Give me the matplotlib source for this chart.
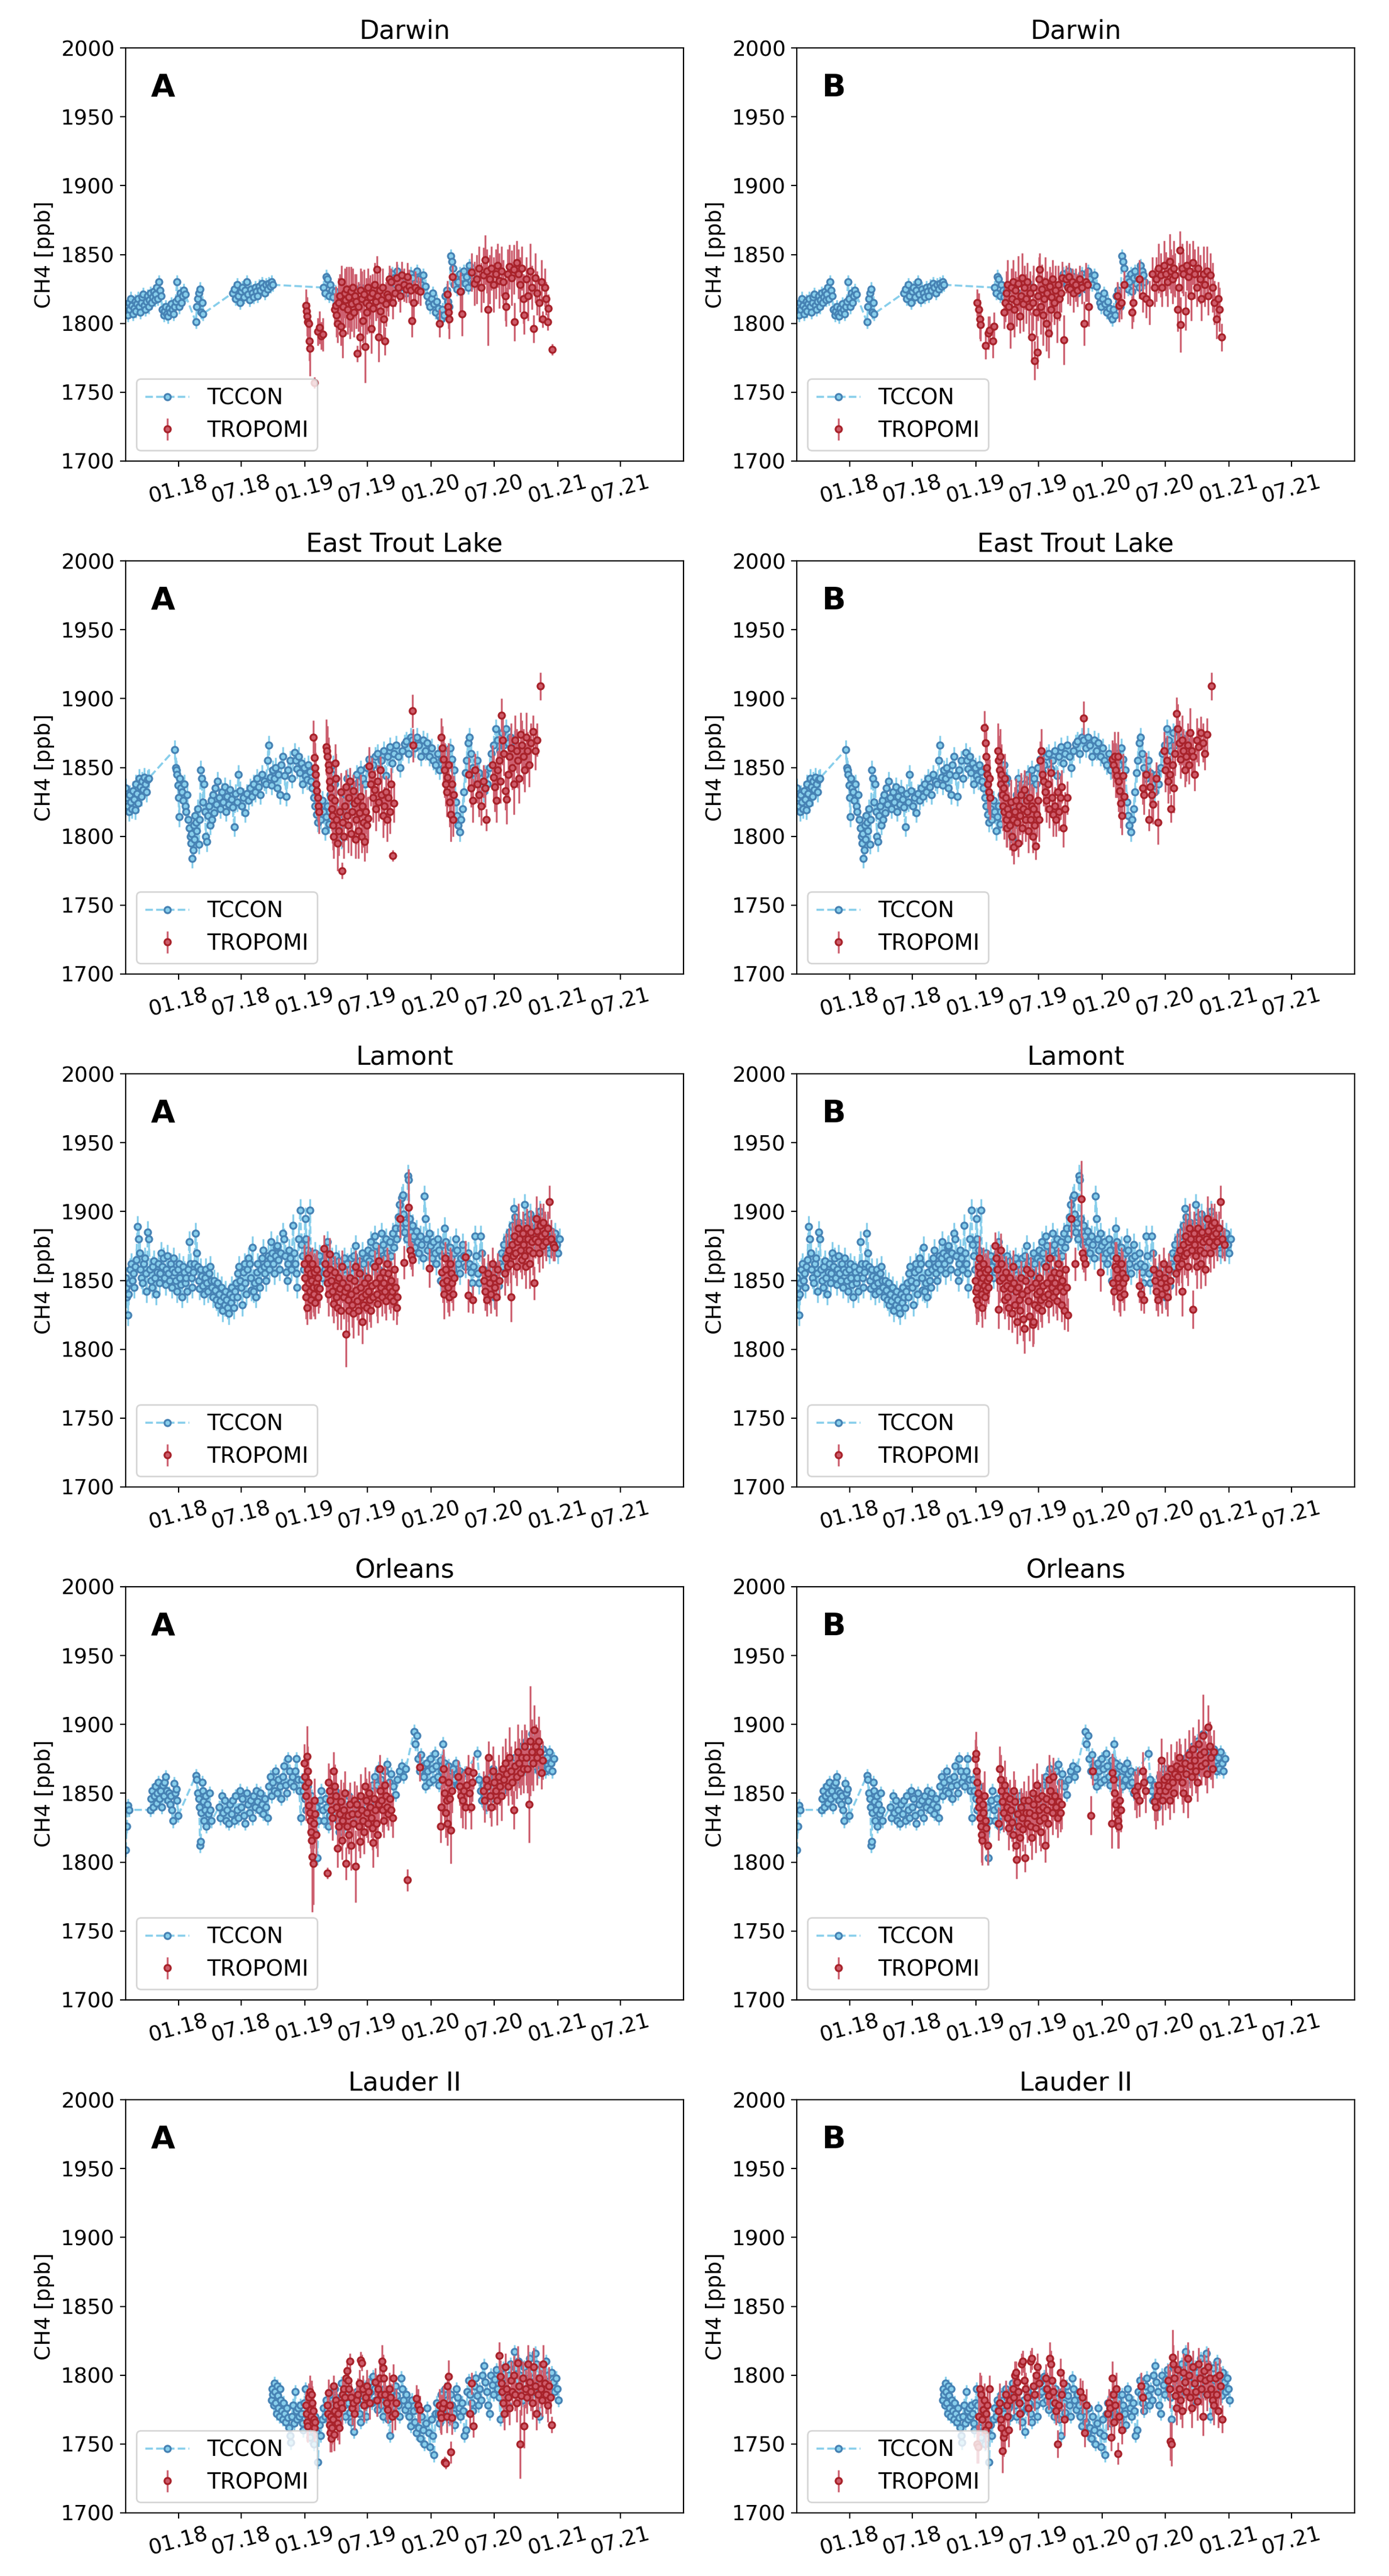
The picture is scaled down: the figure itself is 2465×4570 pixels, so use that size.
import numpy as np
import matplotlib
matplotlib.use('Agg')
import matplotlib.pyplot as plt
import matplotlib.dates as mdates

# days are counted from this date
start = np.datetime64('2017-08-01')

sites = ['Darwin', 'East Trout Lake', 'Lamont', 'Orleans', 'Lauder II']

# TCCON: (day, ppb), same in both columns
darwin_tccon = [(0,1808),(3,1812),(6,1806),(9,1815),(12,1810),(15,1818),(18,1813),(21,1807),(24,1811),(27,1816),(30,1809),(33,1814),(36,1818),(39,1812),(42,1808),(45,1815),(48,1819),(51,1821),(54,1813),(57,1810),(60,1816),(63,1820),(66,1812),(69,1817),(72,1822),(75,1815),(78,1819),(81,1823),(84,1817),(87,1821),(90,1826),(93,1818),(96,1830),(99,1824),(102,1820),(106,1810),(110,1806),(113,1809),(116,1812),(119,1807),(122,1805),(126,1811),(129,1808),(132,1814),(135,1810),(139,1807),(142,1812),(145,1816),(148,1830),(151,1818),(154,1812),(158,1822),(161,1815),(165,1820),(168,1824),(172,1821),
    (203,1801),(206,1812),(209,1818),(212,1822),(215,1825),(218,1808),(221,1815),(224,1807),
    (309,1822),(314,1825),(318,1818),(322,1828),(326,1820),(330,1815),(334,1823),(338,1826),(342,1819),(346,1824),(350,1830),(354,1821),(358,1817),(362,1825),(366,1822),(370,1819),(374,1826),(378,1823),(382,1820),(386,1827),(390,1824),(394,1829),(398,1826),(402,1822),(406,1828),(410,1825),(414,1829),(418,1827),(422,1830),(426,1828),
    (572,1826),(576,1822),(580,1834),(584,1832),(588,1820),(592,1828),(596,1824),(600,1819),(606,1823),(640,1822),(680,1826),(720,1820),
    (765,1830),(770,1836),(775,1833),(780,1828),(785,1838),(790,1832),(795,1826),(800,1834),(806,1829),(812,1822),(818,1830),(824,1836),(830,1833),(836,1825),(842,1838),(848,1832),(854,1828),(860,1835),(866,1827),(872,1820),(876,1815),(880,1812),(884,1818),(888,1822),(892,1814),(896,1808),(900,1816),(904,1811),(908,1805),(912,1803),(916,1810),(920,1806),(924,1820),(928,1824),(932,1816),(936,1812),(940,1849),(943,1845),(946,1840),(950,1828),(954,1832),(958,1825),(962,1830),(966,1836),(970,1823),(974,1833),(978,1838),(982,1829),(986,1834),(990,1826),(994,1842),(998,1838),(1002,1835),(1006,1830)]

etl_tccon = [(0,1835),(3,1828),(6,1822),(9,1818),(12,1830),(15,1825),(18,1820),(21,1833),(24,1827),(27,1819),(30,1838),(33,1831),(36,1824),(39,1842),(42,1836),(45,1829),(48,1840),(51,1834),(54,1843),(57,1838),(60,1832),(63,1841),(66,1842),
    (142,1863),(145,1850),(147,1848),(149,1845),(151,1837),(153,1828),(155,1814),(157,1842),(159,1835),(163,1832),(166,1826),(169,1838),(172,1822),(175,1818),(178,1830),(181,1812),(184,1806),(187,1800),(189,1795),(191,1802),(193,1784),(195,1790),(197,1808),(199,1798),(201,1815),(203,1810),
    (205,1804),(208,1820),(211,1794),(214,1812),(217,1848),(220,1842),(223,1825),(226,1838),(229,1818),(232,1800),(235,1796),(238,1815),(241,1822),(244,1808),(247,1826),(250,1812),(253,1830),(256,1817),(259,1835),(262,1823),
    (266,1840),(270,1828),(274,1820),(278,1832),(282,1825),(286,1836),(290,1818),(294,1829),(298,1823),(302,1834),(306,1827),(310,1821),(314,1807),(318,1831),(322,1825),(326,1845),(330,1833),
    (335,1822),(340,1828),(345,1817),(350,1831),(355,1826),(360,1835),(365,1829),(370,1838),(375,1832),(380,1842),(385,1836),(390,1830),(395,1845),(400,1840),(405,1838),(410,1855),(414,1866),(418,1843),(422,1837),(426,1848),(430,1842),(434,1850),(438,1835),(442,1845),(446,1830),(450,1852),(455,1858),(460,1844),(465,1829),(470,1848),(475,1855),(480,1842),
    (488,1861),(492,1855),(496,1849),(500,1858),(504,1846),(508,1853),(512,1838),(516,1850),(520,1844),(524,1841),(528,1852),(532,1847),(536,1840),
    (540,1835),(544,1828),(548,1822),(552,1816),(556,1810),(560,1820),(564,1812),(568,1826),(572,1818),(576,1804),(580,1814),(584,1822),(588,1809),(592,1830),(596,1845),(600,1852),(604,1838),(608,1842),(612,1818),(616,1805),(620,1812),(624,1798),(628,1808),(632,1820),(636,1830),(640,1842),(644,1835),
    (650,1826),(656,1838),(662,1832),(668,1845),(674,1840),(680,1848),(686,1842),(692,1838),(698,1850),(704,1856),(710,1847),(716,1852),(722,1858),(728,1860),(734,1849),(740,1855),(746,1862),(752,1844),(758,1858),(764,1865),(770,1853),(776,1860),(782,1866),(788,1858),(794,1850),(800,1862),(806,1867),(812,1869),(818,1860),(824,1872),
    (830,1870),(836,1864),(842,1872),(848,1866),(854,1858),(860,1870),(866,1862),(872,1868),(878,1858),(884,1864),(890,1855),(896,1852),(902,1860),(908,1848),(914,1856),(920,1850),
    (926,1860),(932,1852),(938,1864),(944,1856),(950,1848),(955,1825),(958,1815),(962,1808),(966,1803),(970,1812),(974,1820),(978,1832),(982,1846),(986,1855),(990,1868),(994,1872),(998,1860),(1004,1850),(1010,1842),(1016,1855),(1022,1846),(1028,1838),(1034,1832),(1040,1845),(1046,1838),(1052,1850),(1058,1860),(1064,1866),(1070,1878),(1076,1870),(1082,1862),(1088,1875),(1094,1866),(1100,1878),(1106,1868),(1112,1872),(1118,1864),(1124,1870)]

lamont_tccon = [(0,1852),(2,1845),(4,1838),(6,1825),(8,1840),(10,1848),(13,1858),(16,1862),(19,1850),(22,1855),(25,1845),(28,1860),(31,1865),(34,1889),(37,1880),(40,1870),(43,1858),(46,1852),(49,1848),(52,1862),(55,1866),(58,1855),(61,1842),(64,1885),(67,1880),(70,1858),(73,1850),(76,1845),(79,1860),(82,1864),(85,1852),(88,1840),(91,1856),(94,1862),(97,1848),(100,1855),(103,1870),(106,1860),(109,1866),(112,1852),(115,1847),(118,1858),(121,1868),(124,1855),(127,1850),(130,1862),(133,1845),(136,1858),(139,1866),(142,1856),(145,1850),(148,1842),(151,1858),(154,1862),(157,1852),(160,1847),(163,1838),(166,1860),(169,1856),(172,1848),(175,1852),(178,1842),(181,1858),(184,1878),(187,1862),(190,1852),(193,1845),(196,1856),(199,1862),(202,1884),(205,1870),(208,1860),(211,1850),(214,1844),(217,1858),(220,1853),(223,1846),(226,1840),(229,1852),(232,1858),(235,1848),(238,1842),(241,1855),(244,1860),(247,1850),(250,1845),(253,1838),(256,1850),(259,1843),(262,1836),(265,1848),(268,1832),(271,1840),(274,1835),(277,1845),(280,1828),(283,1838),(286,1832),(289,1842),(292,1836),(295,1830),(298,1826),(301,1840),(304,1834),(307,1845),(310,1838),(313,1830),(316,1842),(319,1848),(322,1838),(325,1855),(328,1860),(331,1850),(334,1845),(337,1832),(340,1856),(343,1862),(346,1848),(349,1840),(352,1858),(355,1866),(358,1862),(361,1852),(364,1843),(367,1874),(370,1842),(373,1848),(376,1838),(379,1856),(382,1862),(385,1850),(388,1845),(391,1858),(394,1866),(397,1872),(400,1860),(403,1855),(406,1850),(409,1862),(412,1868),(415,1858),(418,1866),(421,1878),(424,1870),(427,1862),(430,1855),(433,1868),(436,1874),(439,1875),(442,1865),(445,1858),(448,1870),(455,1884),(458,1880),(461,1868),(464,1856),(467,1850),(470,1862),(473,1872),(476,1866),(479,1858),(484,1890),(487,1870),(490,1862),(493,1855),(496,1845),(500,1880),(505,1901),(508,1876),(512,1868),(515,1858),(519,1895),(522,1880),(526,1872),(530,1865),(533,1901),(536,1860),
    (540,1866),(544,1858),(548,1870),(552,1862),(556,1855),(560,1868),(564,1860),(568,1852),(572,1864),(576,1858),(580,1870),(584,1878),(588,1862),(592,1855),(596,1866),(600,1860),(604,1852),(608,1868),(612,1858),(616,1864),(620,1855),(624,1848),(628,1860),(632,1866),(636,1854),(640,1862),(644,1850),(648,1858),(652,1866),(656,1855),(660,1868),(664,1875),(668,1860),(672,1852),(676,1864),(680,1856),(684,1870),(688,1862),(692,1853),(696,1866),
    (700,1872),(704,1864),(708,1878),(712,1870),(716,1862),(720,1882),(724,1875),(728,1868),(732,1858),(736,1872),(740,1884),(744,1876),(748,1866),(752,1880),(756,1870),(760,1862),(764,1878),(768,1868),(772,1884),(776,1874),(780,1888),(784,1880),
    (788,1896),(792,1905),(795,1888),(798,1910),(801,1912),(804,1898),(807,1885),(810,1892),(813,1880),(816,1926),(818,1923),(821,1895),(824,1885),(827,1876),(830,1890),(833,1882),
    (836,1874),(840,1886),(844,1878),(848,1870),(852,1882),(856,1876),(860,1866),(864,1911),(867,1895),(870,1880),(874,1872),(878,1884),(882,1875),(886,1866),(890,1878),(894,1870),(898,1862),(902,1880),(906,1872),(910,1850),(914,1868),(918,1876),(922,1888),(926,1878),(930,1868),(934,1860),(938,1874),(942,1866),(946,1858),(950,1870),(954,1880),(958,1872),(962,1862),(966,1855),(970,1866),(974,1876),(978,1868),(982,1860),
    (990,1870),(994,1862),(998,1856),(1002,1848),(1006,1860),(1010,1882),(1014,1868),(1018,1855),(1022,1848),(1026,1882),(1030,1870),(1034,1858),(1038,1850),(1042,1843),(1046,1855),(1050,1848),(1054,1840),(1058,1852),(1062,1845),(1066,1838),(1070,1850),(1074,1856),(1078,1846),(1082,1862),(1086,1870),(1090,1860),
    (1094,1876),(1098,1868),(1102,1880),(1106,1872),(1110,1885),(1114,1878),(1118,1890),(1122,1902),(1126,1896),(1130,1888),(1134,1880),(1138,1892),(1142,1884),(1146,1876),(1150,1890),(1154,1905),(1158,1896),(1162,1888),(1166,1880),(1170,1898),(1174,1892),(1178,1884),(1182,1876),(1186,1895),(1190,1888),(1194,1880),(1198,1900),(1202,1892),(1206,1884),(1210,1878),(1214,1890),(1218,1882),(1222,1876),(1226,1870),(1230,1886),(1234,1880),(1238,1872),(1242,1884),(1246,1876),(1250,1870),(1254,1880)]

orleans_tccon = [(0,1809),(3,1826),(6,1841),(9,1838),
    (71,1838),(74,1846),(77,1852),(80,1840),(83,1848),(86,1855),(89,1843),(92,1850),(95,1858),(98,1846),(101,1852),(104,1840),(107,1856),(110,1848),(113,1858),(116,1862),(119,1852),(122,1845),(125,1850),(128,1842),(131,1848),(134,1838),(137,1830),(140,1857),(143,1850),(146,1853),(149,1845),(152,1834),
    (203,1863),(206,1860),(208,1850),(211,1846),(213,1840),(215,1812),(217,1815),(219,1836),(221,1858),(223,1852),(225,1844),(227,1830),(229,1838),(231,1848),(233,1826),(236,1842),(239,1835),(242,1850),(245,1838),(248,1830),
    (270,1840),(274,1832),(278,1848),(282,1836),(286,1845),(290,1830),(294,1838),(298,1828),(302,1842),(306,1835),(310,1845),(314,1830),(318,1848),(322,1838),(326,1832),(330,1852),(334,1840),(338,1846),(342,1834),(346,1828),(350,1850),(354,1842),(358,1836),(362,1845),(366,1832),(370,1848),(374,1840),(378,1852),(382,1844),(386,1838),(390,1850),(394,1842),(398,1835),(402,1846),(406,1840),(410,1832),
    (414,1855),(418,1862),(422,1848),(426,1858),(430,1852),(434,1866),(438,1850),(442,1860),(446,1855),(450,1846),(454,1862),(458,1870),(462,1856),(466,1850),(470,1875),(474,1866),(478,1858),(482,1862),(486,1855),(490,1866),(494,1875),(498,1860),(502,1852),(506,1832),
    (510,1860),(514,1852),(518,1846),(522,1838),(526,1855),(530,1844),(534,1836),(538,1848),(542,1828),(546,1822),(550,1840),(554,1803),(558,1830),(562,1845),(566,1852),(570,1838),(574,1830),(578,1846),(582,1840),(586,1826),(590,1834),(594,1848),(598,1842),(602,1836),(606,1852),(610,1844),(614,1830),(618,1822),(622,1838),(626,1846),(630,1834),(634,1826),(638,1840),(642,1832),(646,1848),(650,1838),(654,1830),
    (660,1836),(666,1842),(672,1832),(678,1846),(684,1838),(690,1844),(696,1836),(702,1850),(708,1842),(714,1856),
    (720,1862),(726,1856),(732,1868),(738,1860),(744,1852),(750,1866),(756,1871),(762,1858),(768,1864),(774,1855),(780,1849),(786,1860),(792,1866),(798,1870),(804,1862),(810,1868),
    (834,1895),(838,1886),(842,1892),(846,1875),(850,1866),
    (854,1878),(858,1870),(862,1862),(866,1855),(870,1872),(874,1866),(878,1858),(882,1875),(886,1868),(890,1860),(894,1879),(898,1870),(902,1862),(906,1856),(910,1874),(914,1866),(918,1886),(922,1872),(926,1864),(930,1858),(934,1870),(938,1862),(942,1855),(946,1868),(950,1860),(954,1872),(958,1864),(962,1856),(966,1866),(970,1858),(974,1850),(981,1865),
    (1017,1879),(1022,1860),(1026,1852),(1030,1845),(1034,1856),(1038,1848),(1042,1840),(1046,1852),(1050,1862),(1054,1855),(1058,1846),(1062,1868),(1066,1858),(1070,1850),(1074,1862),(1078,1855),(1082,1848),(1086,1860),(1090,1852),
    (1118,1870),(1122,1862),(1126,1876),(1130,1868),(1134,1860),(1138,1880),(1142,1872),(1146,1884),(1150,1876),(1154,1868),(1158,1888),(1162,1880),(1166,1872),(1170,1865),(1174,1893),(1178,1878),(1182,1870),(1186,1880),(1190,1872),(1194,1866),(1198,1878),(1202,1870),(1206,1882),(1210,1874),(1214,1866),(1218,1876),(1222,1868),(1226,1880),(1230,1872),(1234,1866),(1238,1875)]

lauder_tccon = [(422,1782),(424,1790),(426,1786),(428,1778),(430,1794),(432,1788),(434,1780),(436,1772),(438,1792),(440,1785),(442,1776),(444,1770),(446,1790),(448,1782),(451,1774),(454,1768),(457,1780),(460,1772),(463,1766),(466,1776),(469,1769),(472,1762),(475,1756),(478,1751),(481,1770),(484,1778),(487,1765),(490,1788),(493,1774),(496,1768),(499,1776),(502,1770),(505,1778),
    (508,1772),(511,1765),(514,1760),(517,1780),(520,1790),(523,1778),(526,1770),(529,1762),(532,1755),(535,1775),(538,1768),(541,1760),(544,1750),(548,1770),(552,1758),(556,1737),(560,1764),(564,1756),(568,1768),
    (572,1776),(576,1770),(580,1782),(584,1775),(588,1768),(592,1786),(596,1778),(600,1772),(604,1790),(608,1784),(612,1776),(616,1769),(620,1782),(624,1794),(628,1786),(632,1778),(636,1770),(640,1788),(644,1780),(648,1773),(652,1766),(656,1782),(660,1759),(664,1776),(668,1788),(672,1780),(676,1772),(680,1766),(684,1785),(688,1792),(692,1778),(696,1770),(700,1786),(704,1795),(708,1788),(712,1780),(716,1799),(720,1790),
    (724,1782),(728,1775),(732,1796),(736,1786),(740,1778),(744,1770),(748,1790),(752,1783),(756,1776),(760,1768),(764,1756),(768,1788),(772,1780),(776,1773),(780,1792),(784,1785),(788,1778),(792,1770),(796,1798),(800,1790),(804,1782),
    (808,1775),(812,1786),(816,1778),(820,1770),(824,1763),(828,1782),(832,1774),(836,1766),(840,1758),(844,1776),(848,1762),(852,1754),(856,1770),(860,1760),(864,1750),(868,1765),(872,1776),(876,1758),(880,1748),(884,1768),(888,1756),(892,1742),(896,1772),
    (900,1780),(904,1772),(908,1765),(912,1786),(916,1778),(920,1770),(924,1790),(928,1782),(932,1775),(936,1768),(940,1786),(944,1778),(948,1772),(952,1764),(956,1790),(960,1784),(964,1776),(968,1770),(972,1780),(976,1774),(980,1756),(984,1760),(988,1788),(992,1796),(996,1786),(1000,1780),(1004,1774),(1008,1792),(1012,1798),(1016,1785),(1020,1778),(1024,1790),(1028,1782),(1032,1800),
    (1036,1807),(1040,1795),(1044,1788),(1048,1778),(1052,1772),(1056,1800),(1060,1793),(1064,1786),(1068,1797),(1072,1804),(1076,1790),(1080,1784),(1084,1768),
    (1088,1798),(1092,1805),(1096,1792),(1100,1786),(1104,1778),(1108,1800),(1112,1808),(1116,1796),(1120,1788),(1124,1817),(1128,1805),(1132,1796),(1136,1810),(1140,1800),(1144,1790),(1148,1782),(1152,1806),(1156,1798),(1160,1790),(1164,1784),(1168,1812),(1172,1802),(1176,1795),(1180,1788),(1184,1816),(1188,1808),(1192,1798),(1196,1770),(1200,1790),(1204,1805),(1208,1796),(1212,1788),(1216,1810),(1220,1800),(1224,1792),(1228,1785),(1232,1802),(1236,1795),(1240,1788),(1244,1798),(1248,1790),(1252,1782)]

tccon_err = [5, 7, 8, 5, 5]

# TROPOMI: (day, ppb, error), column A
darwin_a = [(521,1813,12),(523,1809,10),(525,1805,14),(527,1801,12),(529,1800,15),(531,1787,14),(533,1782,20),
    (546,1757,4),(555,1794,10),(560,1797,12),(566,1791,10),(570,1792,12),
    (604,1810,12),(607,1813,14),(610,1806,16),(613,1800,14),(616,1815,18),(619,1820,16),(622,1798,14),(624,1830,12),(627,1793,18),(629,1812,16),
    (633,1822,18),(636,1817,20),(639,1825,16),(642,1810,18),(645,1819,22),(648,1805,16),(651,1823,18),(654,1814,20),(657,1826,14),(660,1808,18),(663,1820,16),(666,1816,20),(670,1778,6),(673,1812,18),(677,1790,14),(680,1824,16),(683,1818,20),(686,1802,16),(689,1821,18),(692,1783,26),(695,1815,18),(698,1808,16),(701,1826,14),(704,1813,20),(707,1819,16),(710,1796,18),(713,1822,14),(716,1811,18),(720,1828,16),(723,1816,14),(726,1839,10),(729,1820,16),(731,1790,18),(734,1824,14),(737,1809,16),(740,1817,12),(743,1826,14),(746,1803,16),(750,1787,10),(753,1814,16),(756,1821,12),(760,1819,14),(763,1832,10),
    (768,1830,10),(773,1815,12),(778,1822,10),(783,1833,12),(788,1826,10),(793,1820,12),(798,1835,10),(805,1828,12),(812,1825,10),(815,1834,10),(820,1827,12),(825,1824,10),(828,1802,12),(832,1815,16),(838,1826,12),(845,1824,10),(852,1823,10),
    (907,1800,10),(930,1821,10),(932,1812,12),(934,1808,12),(936,1803,14),(945,1834,8),(968,1823,14),(972,1807,16),
    (1000,1837,14),(1008,1829,16),(1015,1832,18),(1022,1840,16),(1028,1826,18),(1035,1835,20),(1040,1846,18),(1045,1838,16),(1048,1810,26),(1052,1832,18),(1058,1840,16),(1064,1828,20),(1070,1836,18),(1075,1842,16),(1080,1831,20),(1086,1838,18),(1092,1830,16),(1098,1820,18),(1100,1812,14),(1105,1836,18),(1110,1841,16),(1116,1833,20),(1122,1839,18),(1125,1801,14),(1130,1844,16),(1135,1836,18),(1140,1828,20),(1145,1840,16),(1150,1818,18),(1152,1806,14),(1158,1832,16),(1164,1820,18),(1170,1838,20),(1175,1826,16),(1180,1796,10),(1185,1833,18),(1190,1822,16),(1196,1815,14),(1202,1830,16),(1206,1803,6),(1212,1826,14),(1216,1818,12),(1220,1801,6),(1222,1811,10),(1234,1781,4)]

etl_a = [(543,1872,12),(545,1857,14),(547,1850,18),(549,1845,16),(551,1838,14),(553,1833,18),(555,1828,16),(557,1822,14),(559,1818,16),
    (580,1865,20),(582,1862,18),(584,1858,22),(586,1852,20),(588,1848,18),(590,1840,22),(592,1835,20),(594,1828,18),(596,1820,16),(598,1815,20),(600,1808,18),(602,1800,16),(604,1826,20),(606,1853,14),(608,1842,18),(610,1812,16),
    (613,1795,20),(616,1804,18),(619,1818,16),(622,1832,14),(625,1775,6),(628,1810,18),(631,1800,16),(634,1822,14),(637,1836,12),(640,1815,18),(643,1808,20),(646,1828,14),(649,1840,10),(652,1802,16),(655,1818,18),(658,1833,12),(661,1824,16),(664,1798,14),(667,1812,18),(670,1826,16),(673,1804,20),(676,1817,14),(679,1829,16),(682,1800,12),(685,1822,16),(688,1810,18),(691,1796,14),(694,1818,16),(697,1808,20),(700,1813,16),
    (704,1851,14),(708,1838,16),(712,1845,12),(716,1828,18),(720,1834,14),(724,1820,16),(728,1840,12),(732,1825,14),(736,1848,10),(740,1830,14),(744,1815,16),(748,1822,14),(752,1832,12),(756,1812,16),(760,1828,14),(764,1818,16),(768,1838,12),(772,1786,4),(776,1824,14),
    (829,1891,12),(831,1866,12),
    (913,1872,14),(916,1864,16),(919,1856,18),(922,1848,20),(925,1838,16),(928,1832,18),(931,1843,22),(934,1852,16),(937,1825,18),(940,1816,20),(943,1838,16),(946,1812,12),(949,1830,14),
    (992,1845,12),(998,1835,14),(1004,1826,16),(1010,1848,12),(1016,1838,14),(1022,1830,16),(1028,1822,14),(1034,1840,12),(1040,1835,14),(1043,1812,8),
    (1060,1852,14),(1064,1843,16),(1068,1836,18),(1072,1826,16),(1076,1848,14),(1080,1855,18),(1084,1840,16),(1086,1888,12),(1090,1870,18),(1094,1860,16),(1098,1833,14),(1102,1827,18),(1106,1845,20),(1110,1858,16),(1114,1864,18),(1118,1850,16),(1122,1838,22),(1126,1870,18),(1130,1862,16),(1134,1855,20),(1138,1842,18),(1142,1874,16),(1146,1866,18),(1150,1858,20),(1154,1848,16),(1158,1872,18),(1162,1862,14),(1166,1852,16),(1172,1868,14),(1178,1876,12),(1184,1862,14),(1190,1870,12),(1199,1909,10)]

lamont_a = [(516,1862,14),(518,1852,16),(520,1845,18),(522,1838,16),(524,1830,12),(526,1858,14),(528,1866,16),(530,1848,18),(532,1842,20),(534,1855,16),(536,1836,14),(538,1850,16),(540,1862,12),(542,1845,18),(544,1840,16),(546,1856,14),(548,1834,12),(550,1848,16),(552,1858,14),(554,1845,12),(556,1852,14),(558,1838,12),(560,1844,14),
    (574,1873,10),(577,1862,14),(580,1855,16),(583,1848,14),(586,1840,16),(589,1869,12),(592,1858,14),(595,1850,16),(598,1842,18),(601,1833,14),(604,1856,12),(607,1846,16),(610,1838,14),(613,1830,16),(616,1852,14),(619,1844,12),(622,1828,14),(625,1860,12),(628,1848,14),(631,1838,16),(634,1842,12),
    (637,1811,24),(640,1845,14),(643,1836,16),(646,1828,18),(649,1852,12),(652,1840,14),(655,1832,16),(658,1826,18),(661,1850,14),(664,1860,12),(667,1843,16),(670,1835,14),(673,1828,18),(676,1855,12),(679,1845,14),(682,1838,16),(685,1820,16),(688,1832,14),(691,1848,12),(694,1840,14),(697,1830,16),(700,1852,12),(703,1842,14),(706,1836,16),(709,1828,12),(712,1846,14),(715,1838,12),
    (720,1860,12),(723,1848,14),(726,1840,16),(729,1833,14),(732,1864,12),(735,1852,14),(738,1845,12),(741,1838,14),(744,1856,12),(747,1848,14),(750,1842,16),(753,1835,14),(756,1862,12),(759,1855,14),(762,1845,16),(765,1838,12),(768,1850,14),(771,1842,12),(774,1835,14),(777,1858,12),(780,1845,14),(783,1830,12),(786,1838,14),
    (793,1895,14),(805,1863,12),(818,1903,28),(822,1872,12),(826,1868,10),(830,1865,12),(879,1859,14),
    (914,1856,16),(917,1848,14),(920,1840,18),(923,1866,12),(926,1858,14),(929,1850,16),(932,1845,18),(935,1838,14),(938,1862,12),(941,1855,16),(944,1848,14),(947,1840,12),(950,1852,14),
    (982,1867,12),(990,1839,12),(1003,1836,10),
    (1032,1858,14),(1036,1850,16),(1040,1842,14),(1044,1836,12),(1048,1855,14),(1052,1848,16),(1056,1840,14),(1060,1862,12),(1064,1852,14),(1068,1845,16),(1072,1838,14),(1076,1858,12),(1080,1850,14),
    (1096,1855,16),(1100,1866,18),(1104,1860,14),(1108,1872,16),(1112,1862,14),(1115,1838,18),(1118,1876,16),(1121,1868,14),(1124,1882,16),(1127,1870,18),(1130,1860,14),(1133,1878,16),(1136,1888,18),(1139,1880,14),(1142,1872,16),(1145,1865,14),(1148,1884,16),(1151,1876,18),(1154,1868,14),(1157,1860,16),(1160,1888,14),(1163,1880,16),(1166,1872,14),(1169,1862,18),(1172,1885,16),(1175,1878,14),(1178,1870,16),(1181,1848,12),(1184,1880,14),(1187,1895,16),(1190,1886,14),(1193,1878,16),(1196,1870,14),(1199,1890,16),(1202,1882,14),(1205,1875,16),(1208,1892,14),(1212,1884,16),(1216,1878,14),(1220,1888,12),(1226,1907,12),(1230,1880,14),(1236,1876,12),(1240,1874,10)]

orleans_a = [(516,1872,14),(518,1862,16),(520,1855,20),(522,1848,18),(524,1877,22),(526,1866,18),(528,1858,20),(530,1841,22),(532,1836,18),(534,1830,20),(536,1822,18),(538,1816,16),(540,1804,40),(542,1799,30),(544,1828,18),(546,1845,16),(548,1835,14),(550,1820,16),
    (583,1792,4),(586,1858,14),(589,1852,16),(592,1845,18),(595,1838,14),(598,1832,16),(601,1866,14),(604,1855,16),(607,1848,18),(610,1840,16),(613,1810,14),(616,1826,16),(619,1835,18),(622,1844,16),(625,1816,14),(628,1830,18),(631,1838,20),(634,1850,16),(637,1799,12),(640,1826,16),(643,1834,18),(646,1820,14),(649,1842,16),(652,1812,18),(655,1835,14),(658,1828,16),(661,1845,14),(664,1797,26),
    (668,1842,14),(671,1835,16),(674,1826,18),(677,1815,12),(680,1848,16),(683,1838,18),(686,1830,14),(689,1822,16),(692,1855,14),(695,1845,16),(698,1836,18),(701,1828,14),(704,1850,16),(707,1840,18),(710,1832,14),(713,1825,16),(716,1814,18),(719,1846,14),(722,1838,16),(725,1828,18),(728,1820,16),(731,1842,14),(734,1868,10),(737,1852,12),(740,1845,14),(743,1838,16),(746,1830,12),(749,1856,14),(752,1848,12),(756,1840,14),(760,1835,12),(764,1846,14),(768,1838,12),(772,1832,14),
    (815,1787,8),(850,1869,10),
    (910,1826,12),(913,1840,16),(916,1860,18),(919,1868,14),(922,1850,20),(925,1836,18),(928,1845,22),(931,1828,16),(934,1858,14),(937,1846,18),(940,1823,24),(944,1852,16),
    (962,1862,12),(966,1855,14),(970,1848,16),(974,1845,20),(978,1852,14),(982,1840,16),(986,1856,14),(990,1866,12),(994,1850,14),(998,1840,16),(1002,1858,14),(1006,1865,12),
    (1034,1852,14),(1038,1845,16),(1042,1860,14),(1046,1855,18),(1050,1876,12),(1054,1848,16),(1058,1840,14),(1062,1866,18),(1066,1858,16),(1070,1852,14),(1074,1845,18),(1078,1862,16),(1082,1855,14),(1086,1848,18),(1090,1868,16),(1094,1860,14),
    (1098,1872,18),(1102,1864,16),(1106,1855,14),(1110,1876,22),(1114,1866,18),(1118,1858,16),(1122,1838,14),(1126,1870,18),(1130,1862,16),(1134,1880,20),(1138,1872,18),(1142,1865,16),(1146,1876,20),(1150,1868,18),(1154,1884,16),(1158,1876,20),(1162,1868,18),(1166,1842,28),(1170,1888,40),(1174,1880,24),(1178,1872,20),(1182,1896,18),(1186,1884,16),(1190,1876,20),(1194,1888,18),(1198,1880,16),(1202,1865,12),(1206,1874,14)]

lauder_a = [(521,1778,10),(523,1772,12),(525,1766,14),(527,1763,12),(530,1784,10),(532,1788,12),(534,1775,14),(536,1770,12),(538,1786,10),(540,1780,12),(542,1774,14),(544,1768,12),(546,1762,10),(548,1766,12),
    (583,1778,12),(585,1772,14),(587,1787,10),(589,1764,12),(591,1758,14),(593,1770,12),(595,1754,10),(597,1762,12),(599,1768,14),(601,1792,8),(603,1757,12),(605,1774,10),(607,1782,12),(609,1778,10),(612,1765,12),(615,1772,10),(618,1762,12),
    (622,1780,10),(625,1776,12),(628,1786,10),(631,1790,8),(634,1784,10),(637,1798,8),(640,1803,8),(643,1796,10),(646,1790,8),(649,1810,6),(652,1784,10),(655,1776,12),(658,1780,10),(662,1772,12),(668,1782,10),(672,1786,12),(676,1794,10),(680,1811,6),(683,1809,6),(686,1790,10),(690,1778,12),(694,1784,10),(698,1792,12),(702,1788,10),(706,1780,12),
    (722,1795,10),(726,1782,12),(730,1790,10),(734,1798,12),(738,1786,10),(742,1810,12),(744,1805,10),(746,1798,12),(750,1786,10),(754,1780,12),(758,1775,10),(762,1790,12),(766,1784,10),(770,1770,12),(774,1798,10),(778,1772,12),(782,1780,10),
    (840,1783,10),(846,1778,12),(850,1775,10),
    (907,1778,12),(910,1772,14),(913,1769,12),(916,1776,10),(919,1780,12),(922,1737,4),(925,1736,4),(928,1770,12),(931,1792,10),(934,1799,12),(937,1778,14),(940,1744,8),(944,1769,12),
    (995,1772,10),(1000,1794,8),(1006,1763,8),
    (1080,1814,10),(1083,1799,12),(1086,1794,10),(1089,1788,12),(1092,1780,14),(1095,1772,12),(1098,1806,10),
    (1102,1790,12),(1106,1784,14),(1110,1776,12),(1114,1796,14),(1118,1788,12),(1122,1800,14),(1126,1786,12),(1130,1780,14),(1134,1809,12),(1138,1792,14),(1141,1750,25),(1144,1785,14),(1148,1798,12),(1152,1763,16),(1156,1790,14),(1160,1784,12),(1164,1808,14),(1168,1795,12),(1172,1788,14),(1176,1780,12),(1180,1806,14),(1184,1792,12),(1188,1772,12),(1192,1786,14),(1196,1798,12),(1200,1790,14),(1204,1782,12),(1208,1808,14),(1212,1794,12),(1216,1786,14),(1220,1778,12),(1224,1792,14),(1228,1784,12),(1232,1764,6)]

# TROPOMI: (day, ppb, error), column B
darwin_b = [(522,1815,10),(526,1810,12),(529,1803,14),(531,1799,12),(546,1784,10),(554,1793,12),(558,1795,10),(567,1787,12),(571,1798,10),
    (600,1808,12),(603,1815,14),(606,1822,16),(609,1828,18),(612,1812,14),(617,1798,16),(620,1826,14),(623,1818,18),(626,1830,16),(629,1810,20),(632,1824,14),(636,1816,18),(640,1829,20),(645,1805,12),(648,1820,16),(652,1833,18),(655,1814,20),(659,1826,16),(663,1818,18),(667,1830,14),(671,1812,20),(675,1822,16),
    (679,1790,18),(682,1815,20),(685,1826,16),(688,1773,14),(692,1808,18),(695,1779,12),(698,1820,18),(701,1832,16),(703,1839,12),(706,1812,20),(709,1825,18),(712,1806,22),(715,1818,16),(718,1830,18),(721,1800,20),(724,1822,16),(728,1793,18),(731,1827,14),(734,1810,20),(737,1819,18),(740,1832,14),(744,1815,16),(748,1824,18),(752,1806,20),(756,1828,14),(760,1818,16),(764,1822,14),(768,1833,12),(772,1788,18),
    (779,1832,10),(783,1826,12),(787,1834,10),(791,1825,12),(796,1830,10),(800,1822,14),(806,1828,12),(812,1824,12),(818,1832,10),(824,1826,12),(831,1800,16),(836,1830,14),(840,1828,12),(844,1812,14),
    (927,1820,10),(932,1813,12),(938,1815,12),(946,1828,10),(969,1808,12),(972,1815,14),
    (991,1832,14),(1000,1820,12),(1010,1818,14),(1020,1815,16),(1028,1836,12),(1035,1826,14),(1040,1832,16),(1046,1840,18),(1052,1835,16),(1056,1826,14),(1062,1842,18),(1068,1836,16),(1072,1830,18),(1078,1845,20),(1082,1838,16),(1086,1832,18),(1090,1840,20),(1094,1835,16),(1101,1810,16),(1104,1826,18),(1108,1853,14),(1109,1799,20),(1114,1840,18),(1118,1836,16),(1124,1809,14),(1128,1842,18),(1132,1834,16),(1136,1838,20),(1140,1820,18),(1146,1844,16),(1150,1836,18),(1156,1826,14),(1160,1840,16),(1166,1832,18),(1170,1818,16),(1176,1836,20),(1180,1828,16),(1186,1838,18),(1190,1820,14),(1196,1835,16),(1202,1826,18),(1208,1815,16),(1214,1803,14),(1218,1818,12),(1222,1810,16),(1229,1790,10)]

etl_b = [(543,1879,12),(545,1868,14),(547,1858,18),(549,1850,16),(551,1845,14),(553,1838,18),(555,1832,16),(557,1842,14),(559,1828,16),
    (582,1862,20),(584,1855,18),(586,1848,22),(588,1858,20),(590,1838,18),(592,1845,22),(594,1830,20),(596,1822,18),(598,1835,16),(600,1818,20),(602,1842,18),(604,1828,16),(606,1812,20),(608,1806,14),(610,1820,18),
    (613,1816,16),(616,1808,18),(619,1825,16),(622,1800,14),(625,1812,16),(628,1792,12),(631,1818,18),(634,1826,16),(637,1810,14),(640,1795,10),(643,1822,18),(646,1815,14),(649,1830,16),(652,1806,12),(655,1820,18),(658,1834,14),(661,1812,16),(664,1826,18),(667,1818,14),(670,1804,16),(673,1828,18),(676,1812,14),(679,1822,16),(682,1800,12),(685,1820,16),(688,1808,18),(691,1793,10),(694,1816,16),(697,1826,14),(700,1812,16),
    (704,1855,14),(707,1862,16),(710,1845,12),(714,1840,18),(718,1832,14),(722,1826,16),(726,1838,12),(730,1820,14),(734,1846,10),(738,1828,14),(742,1816,16),(746,1822,14),(750,1812,12),(754,1832,16),(758,1818,14),(762,1828,16),(766,1836,12),(770,1806,14),(776,1820,12),(782,1828,12),
    (829,1886,12),
    (913,1856,14),(916,1852,16),(919,1858,18),(922,1848,20),(925,1844,16),(928,1858,18),(931,1840,22),(934,1833,16),(937,1824,18),(940,1815,14),(943,1844,16),(946,1829,12),
    (1000,1835,12),(1004,1830,14),(1010,1845,16),(1018,1812,8),(1022,1836,14),(1026,1830,16),(1030,1823,14),(1040,1842,12),(1044,1810,16),
    (1062,1862,14),(1066,1848,16),(1070,1855,18),(1074,1840,16),(1078,1845,14),(1082,1820,10),(1086,1852,16),(1090,1835,18),(1094,1860,16),(1098,1889,12),(1102,1878,18),(1106,1868,16),(1110,1856,14),(1114,1870,18),(1118,1862,16),(1122,1848,12),(1126,1858,18),(1130,1866,16),(1134,1852,14),(1138,1875,18),(1142,1862,16),(1146,1858,14),(1150,1845,12),(1156,1870,16),(1162,1865,14),(1168,1875,12),(1174,1868,14),(1180,1860,12),(1186,1874,12),(1199,1909,10)]

lamont_b = [(516,1850,14),(518,1842,16),(520,1836,18),(522,1845,16),(524,1832,12),(526,1860,14),(528,1866,16),(530,1855,18),(532,1848,20),(534,1840,16),(536,1830,14),(538,1852,16),(540,1862,12),(542,1846,18),(544,1838,16),(546,1856,14),(548,1843,12),(550,1850,16),(552,1858,14),(554,1845,12),(556,1852,14),
    (574,1875,10),(577,1866,14),(580,1858,16),(583,1829,14),(586,1850,16),(589,1872,12),(592,1862,14),(595,1852,16),(598,1844,18),(601,1836,14),(604,1856,12),(607,1846,16),(610,1838,14),(613,1830,16),(616,1852,14),(619,1844,12),(622,1826,14),(625,1860,12),(628,1848,14),(631,1832,16),(634,1842,12),
    (637,1820,16),(640,1845,14),(643,1836,16),(646,1828,18),(649,1852,12),(652,1840,14),(655,1822,16),(658,1815,18),(661,1850,14),(664,1858,12),(667,1843,16),(670,1835,14),(673,1824,18),(676,1855,12),(679,1845,14),(682,1818,16),(685,1820,16),(688,1832,14),(691,1848,12),(694,1840,14),(697,1830,16),(700,1852,12),(703,1842,14),(706,1836,16),(709,1828,12),(712,1846,14),(715,1838,12),
    (720,1860,12),(723,1848,14),(726,1840,16),(729,1833,14),(732,1866,12),(735,1852,14),(738,1845,12),(741,1838,14),(744,1856,12),(747,1848,14),(750,1842,16),(753,1835,14),(756,1862,12),(759,1855,14),(762,1845,16),(765,1832,12),(768,1850,14),(771,1842,12),(774,1828,14),(777,1858,12),(780,1845,14),(783,1825,12),
    (793,1895,14),(805,1862,12),(822,1909,28),(826,1870,12),(830,1866,10),(834,1862,12),(879,1856,14),
    (914,1848,16),(917,1842,14),(920,1860,18),(923,1866,12),(926,1858,14),(929,1852,16),(932,1845,18),(935,1838,14),(938,1862,12),(941,1855,16),(944,1848,14),(947,1840,12),(950,1852,14),
    (990,1846,12),(996,1840,12),(1003,1836,10),
    (1032,1858,14),(1036,1850,16),(1040,1842,14),(1044,1836,12),(1048,1855,14),(1052,1848,16),(1056,1840,14),(1060,1862,12),(1064,1852,14),(1068,1845,16),(1072,1838,14),(1076,1858,12),(1080,1850,14),
    (1096,1855,16),(1100,1866,18),(1104,1860,14),(1108,1872,16),(1112,1862,14),(1115,1842,18),(1118,1876,16),(1121,1868,14),(1124,1882,16),(1127,1870,18),(1130,1860,14),(1133,1878,16),(1136,1888,18),(1139,1880,14),(1142,1872,16),(1146,1829,14),(1148,1884,16),(1151,1876,18),(1154,1868,14),(1157,1860,16),(1160,1888,14),(1163,1880,16),(1166,1872,14),(1169,1862,18),(1172,1885,16),(1175,1878,14),(1178,1870,16),(1181,1858,12),(1184,1880,14),(1187,1895,16),(1190,1886,14),(1193,1878,16),(1196,1870,14),(1199,1890,16),(1202,1882,14),(1205,1875,16),(1208,1892,14),(1212,1884,16),(1216,1878,14),(1220,1888,12),(1226,1907,12),(1230,1880,14),(1236,1876,12)]

orleans_b = [(516,1875,14),(518,1879,16),(520,1866,18),(522,1858,14),(524,1850,16),(526,1840,14),(528,1845,20),(530,1832,18),(532,1826,14),(534,1820,20),(536,1816,18),(538,1842,16),(540,1836,14),(542,1848,18),(545,1830,14),(548,1825,16),(552,1812,14),
    (583,1828,12),(586,1868,16),(589,1860,18),(592,1852,14),(595,1844,16),(598,1836,14),(601,1856,18),(604,1848,14),(607,1840,16),(610,1832,12),(613,1825,16),(616,1846,14),(619,1838,16),(622,1829,14),(625,1820,12),(628,1852,14),(631,1844,16),(634,1812,12),(636,1802,14),(639,1835,16),(642,1826,14),(645,1818,16),(648,1840,14),(651,1832,18),(654,1824,16),(657,1845,14),(660,1803,10),(663,1836,16),
    (667,1828,14),(670,1845,18),(673,1836,16),(676,1826,14),(679,1818,16),(682,1850,18),(685,1842,16),(688,1834,14),(691,1825,18),(694,1856,16),(697,1846,14),(700,1838,16),(703,1830,18),(706,1822,14),(709,1848,16),(712,1840,14),(715,1832,18),(718,1812,12),(721,1846,16),(724,1838,14),(727,1828,16),(730,1860,18),(733,1852,16),(736,1844,14),(739,1836,16),(742,1862,14),(746,1848,18),(750,1840,16),(754,1832,14),(758,1844,16),(762,1836,14),(766,1842,18),
    (851,1834,14),(855,1866,10),
    (910,1828,18),(913,1865,14),(916,1860,16),(919,1850,18),(922,1842,16),(925,1836,14),(928,1830,20),(931,1826,16),(934,1845,18),(937,1838,16),
    (978,1852,14),(982,1848,16),(986,1855,14),(990,1845,12),(1000,1866,14),(1004,1858,12),(1008,1852,16),
    (1034,1844,14),(1038,1840,16),(1042,1848,18),(1046,1856,16),(1050,1852,14),(1054,1874,16),(1058,1845,18),(1062,1860,16),(1066,1852,14),(1070,1862,18),(1074,1855,16),(1078,1845,14),(1082,1868,18),(1086,1858,16),(1090,1850,14),(1094,1864,16),
    (1098,1870,18),(1102,1862,16),(1106,1876,14),(1110,1868,18),(1114,1858,16),(1118,1850,14),(1122,1872,18),(1126,1864,16),(1130,1846,14),(1134,1878,18),(1138,1870,16),(1142,1862,14),(1146,1882,16),(1150,1874,18),(1154,1866,16),(1158,1858,14),(1162,1886,18),(1166,1878,16),(1170,1870,14),(1174,1892,30),(1178,1880,18),(1182,1872,16),(1186,1864,14),(1190,1898,16),(1194,1884,18),(1198,1876,16),(1202,1868,14),(1206,1880,16)]

lauder_b = [(521,1750,14),(524,1748,12),(527,1770,14),(530,1790,12),(533,1786,14),(536,1768,12),(539,1775,14),(542,1782,12),(545,1760,14),(548,1772,12),(551,1778,14),(554,1764,12),(557,1790,10),
    (583,1774,12),(586,1780,14),(589,1768,12),(592,1762,14),(595,1745,16),(598,1755,14),(601,1758,12),(604,1786,10),(607,1778,12),(610,1770,14),(613,1760,12),(616,1782,10),
    (625,1790,10),(628,1784,12),(631,1800,10),(634,1802,8),(637,1795,10),(640,1788,12),(643,1780,10),(646,1772,12),(650,1808,8),(654,1810,8),(658,1796,10),(662,1790,12),(666,1784,10),(670,1776,12),(676,1810,8),(680,1812,8),(684,1792,10),(688,1786,12),(692,1800,10),(696,1806,10),(700,1794,12),
    (720,1798,10),(724,1790,12),(728,1785,10),(732,1812,12),(735,1808,10),(738,1796,12),(742,1788,10),(746,1780,12),(750,1774,10),(754,1750,10),(758,1778,12),(762,1802,10),(766,1786,12),(770,1794,10),(774,1768,12),
    (820,1788,10),(826,1784,12),(832,1758,10),(838,1778,12),
    (900,1772,12),(903,1780,10),(906,1776,12),(909,1755,10),(912,1798,12),(915,1786,10),(918,1766,12),(921,1778,10),(924,1790,12),(928,1743,8),(932,1770,12),(940,1760,10),
    (995,1792,10),(1000,1784,12),
    (1074,1796,12),(1078,1790,14),(1080,1752,14),(1083,1750,16),(1086,1813,20),(1089,1808,14),(1092,1798,12),(1095,1785,14),(1098,1776,12),(1102,1804,14),(1106,1790,12),(1110,1782,14),(1114,1774,12),(1118,1802,14),(1122,1795,12),(1126,1788,14),(1130,1812,12),(1134,1800,14),(1138,1784,12),(1142,1776,14),(1146,1806,12),(1150,1794,14),(1154,1788,12),(1158,1781,14),(1162,1808,12),(1166,1798,14),(1170,1790,12),(1174,1770,14),(1178,1803,12),(1182,1796,14),(1186,1786,12),(1190,1806,14),(1194,1798,12),(1198,1790,14),(1202,1782,12),(1206,1778,14),(1210,1798,12),(1214,1786,14),(1218,1774,12),(1222,1800,12),(1226,1792,14),(1230,1768,10)]

tccon = [darwin_tccon, etl_tccon, lamont_tccon, orleans_tccon, lauder_tccon]
tropomi = [[darwin_a, etl_a, lamont_a, orleans_a, lauder_a],
           [darwin_b, etl_b, lamont_b, orleans_b, lauder_b]]
letters = ['A', 'B']

W, H = 2465, 4570
fig = plt.figure(figsize=(W / 200, H / 200), dpi=200)
col_x = [223 / W, 1414 / W]
ax_w = 990 / W
ax_h = 733 / H

for i, site in enumerate(sites):
    tc = np.array(tccon[i])
    tc_t = start + tc[:, 0].astype('timedelta64[D]')
    for j in range(2):
        tr = np.array(tropomi[j][i])
        tr_t = start + tr[:, 0].astype('timedelta64[D]')
        bottom = 1 - (85 + 910 * i + 733) / H
        ax = fig.add_axes([col_x[j], bottom, ax_w, ax_h])

        ax.errorbar(tc_t, tc[:, 1], yerr=tccon_err[i], fmt='none',
                    ecolor='#87ceeb', elinewidth=1.2, zorder=1)
        ax.plot(tc_t, tc[:, 1], '--o', color='#87ceeb', lw=1.3, ms=4,
                mfc='#87ceeb', mec='#4682b4', mew=1.2, label='TCCON', zorder=2)
        ax.errorbar(tr_t, tr[:, 1], yerr=tr[:, 2], fmt='o', ms=4,
                    mfc='#cd5c6a', mec='#a8222a', mew=1.2, ecolor='#cd6070',
                    elinewidth=1.2, label='TROPOMI', zorder=3)

        ax.set_xlim(np.datetime64('2017-08-01'), np.datetime64('2021-12-31'))
        ax.xaxis.set_major_locator(mdates.MonthLocator(bymonth=[1, 7]))
        ax.xaxis.set_major_formatter(mdates.DateFormatter('%m.%y'))
        plt.setp(ax.get_xticklabels(), rotation=15)
        ax.set_ylim(1700, 2000)
        ax.set_yticks(np.arange(1700, 2001, 50))
        ax.tick_params(labelsize=13.5)
        ax.set_ylabel('CH4 [ppb]', fontsize=13.5)
        ax.set_title(site, fontsize=16.5)
        ax.text(0.045, 0.94, letters[j], transform=ax.transAxes,
                fontsize=20, fontweight='bold', va='top', ha='left')
        ax.legend(loc='lower left', fontsize=14)

fig.savefig('out.png', dpi=200)
